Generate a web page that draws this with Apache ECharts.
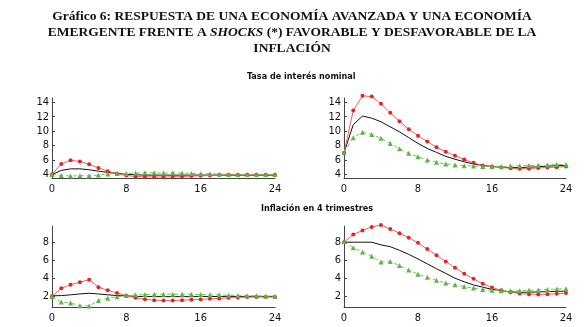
<!DOCTYPE html>
<html><head><meta charset="utf-8">
<script src="https://cdn.jsdelivr.net/npm/echarts@6/dist/echarts.min.js"></script>
<style>html,body{margin:0;padding:0;background:#fff}#c{width:584px;height:327px}</style>
</head><body><div id="c"></div>
<script>
// Tasa de interés nominal - economía avanzada (izquierda)
const rateAdvBase = [4.0,4.55,4.77,4.77,4.64,4.45,4.27,4.14,4.0,3.95,3.9,3.9,3.9,3.9,3.9,3.9,3.9,3.9,3.9,3.9,3.9,3.9,3.9,3.9,3.9];
const rateAdvUnfav = [4.0,5.45,5.95,5.8,5.4,4.9,4.45,4.1,3.85,3.7,3.68,3.64,3.64,3.66,3.7,3.77,3.8,3.85,3.9,3.95,3.95,3.95,3.95,3.95,3.95];
const rateAdvFav = [4.0,3.86,3.77,3.82,3.82,3.9,4.05,4.14,4.14,4.18,4.23,4.23,4.18,4.23,4.18,4.14,4.09,4.09,4.05,4.0,4.0,4.0,4.0,4.0,4.0];
// Tasa de interés nominal - economía emergente (derecha)
const rateEmBase = [7.0,10.9,12.1,11.8,11.3,10.6,9.9,9.1,8.3,7.6,7.05,6.5,6.1,5.75,5.45,5.23,5.1,5.0,4.95,4.95,5.0,5.05,5.15,5.2,5.25];
const rateEmUnfav = [7.0,12.86,14.9,14.8,13.8,12.55,11.36,10.27,9.36,8.55,7.77,7.14,6.6,6.05,5.6,5.23,5.1,4.95,4.86,4.8,4.8,4.9,4.95,5.0,5.1];
const rateEmFav = [7.0,9.1,9.85,9.55,9.0,8.3,7.55,6.95,6.45,6.0,5.7,5.45,5.3,5.2,5.15,5.1,5.1,5.1,5.15,5.2,5.23,5.27,5.3,5.36,5.36];
// Inflación en 4 trimestres - economía avanzada (izquierda)
const inflAdvBase = [2.04,2.07,2.15,2.25,2.33,2.25,2.15,2.07,2.04,1.98,1.96,1.95,1.95,1.95,1.95,1.95,1.95,1.96,1.97,1.98,1.98,1.98,1.98,1.98,1.98];
const inflAdvUnfav = [2.0,2.87,3.27,3.56,3.82,3.0,2.65,2.36,2.04,1.82,1.67,1.56,1.53,1.53,1.56,1.6,1.64,1.71,1.75,1.82,1.85,1.9,1.9,1.9,1.9];
const inflAdvFav = [1.96,1.35,1.24,0.95,0.91,1.53,1.78,1.93,2.07,2.15,2.18,2.22,2.22,2.22,2.22,2.22,2.18,2.15,2.15,2.1,2.07,2.04,2.04,2.0,2.0];
// Inflación en 4 trimestres - economía emergente (derecha)
const inflEmBase = [8.0,8.0,8.0,8.0,7.7,7.5,7.1,6.65,6.13,5.6,5.05,4.53,4.0,3.6,3.25,3.0,2.76,2.6,2.48,2.44,2.44,2.47,2.5,2.53,2.57];
const inflEmUnfav = [8.0,8.85,9.3,9.7,9.9,9.47,9.0,8.5,7.93,7.24,6.55,5.85,5.16,4.5,3.93,3.38,2.98,2.65,2.43,2.31,2.22,2.2,2.22,2.26,2.36];
const inflEmFav = [8.07,7.38,6.9,6.43,5.8,5.85,5.4,4.9,4.45,4.1,3.77,3.48,3.26,3.08,2.9,2.75,2.65,2.6,2.6,2.6,2.65,2.7,2.75,2.8,2.84];

const xTicks = [0, 8, 16, 24];
const rateTicks = [4, 6, 8, 10, 12, 14];
const inflTicks = [2, 4, 6, 8];

const subtitles = ['Tasa de interés nominal', 'Inflación en 4 trimestres'];

const chart = echarts.init(document.getElementById('c'), null, {renderer: 'canvas'});
const narrow = '"Liberation Sans Narrow","DejaVu Sans Condensed","Arial Narrow",sans-serif';
const axisColor = '#444';
const RED = '#e0242a', RED_LINE = '#f0625d', GREEN = '#5db544', GREEN_LINE = '#76c35e';

const grids = [
  {left: 52, top: 98, width: 223, height: 80},
  {left: 344, top: 98, width: 222, height: 80},
  {left: 52, top: 226, width: 223, height: 81},
  {left: 344, top: 226, width: 222, height: 81}
];
const panels = [
  [rateAdvBase, rateAdvUnfav, rateAdvFav, 3.5, 14.6, rateTicks],
  [rateEmBase, rateEmUnfav, rateEmFav, 3.5, 14.6, rateTicks],
  [inflAdvBase, inflAdvUnfav, inflAdvFav, 0.8, 9.8, inflTicks],
  [inflEmBase, inflEmUnfav, inflEmFav, 0.8, 9.8, inflTicks]
];
const toPts = arr => arr.map((v, i) => [i, v]);

const xAxes = [], yAxes = [], series = [];
panels.forEach((p, k) => {
  xAxes.push({
    type: 'value', gridIndex: k, min: 0, max: 24, interval: 8,
    axisLine: {show: true, lineStyle: {color: axisColor, width: 1}},
    axisTick: {show: false},
    splitLine: {show: false},
    axisLabel: {color: '#111', fontFamily: narrow, fontSize: 11, margin: 6, customValues: xTicks}
  });
  yAxes.push({
    type: 'value', gridIndex: k, min: p[3], max: p[4],
    axisLine: {show: true, lineStyle: {color: axisColor, width: 1}},
    axisTick: {show: true, inside: true, length: 3, customValues: p[5], lineStyle: {color: axisColor}},
    splitLine: {show: false},
    axisLabel: {color: '#111', fontFamily: narrow, fontSize: 11, margin: 3, customValues: p[5]}
  });
  series.push({
    type: 'line', xAxisIndex: k, yAxisIndex: k, data: toPts(p[0]), clip: false,
    symbol: 'none', lineStyle: {color: '#111', width: 1}, z: 3, animation: false
  });
  series.push({
    type: 'line', xAxisIndex: k, yAxisIndex: k, data: toPts(p[1]), clip: false,
    symbol: 'circle', symbolSize: 4, itemStyle: {color: RED},
    lineStyle: {color: RED_LINE, width: 1}, z: 4, animation: false
  });
  series.push({
    type: 'line', xAxisIndex: k, yAxisIndex: k, data: toPts(p[2]), clip: false,
    symbol: 'triangle', symbolSize: 5, itemStyle: {color: GREEN},
    lineStyle: {color: GREEN_LINE, width: 1, type: [4, 3]}, z: 4, animation: false
  });
});

const titleFont = '"Liberation Serif","Times New Roman",serif';
const tStyle = {fontFamily: titleFont, fontWeight: 'bold', fontSize: 13.5, color: '#111'};
const sStyle = {fontFamily: narrow, fontWeight: 'bold', fontSize: 9, color: '#111'};
chart.setOption({
  animation: false,
  title: [
    {text: 'Gráfico 6: RESPUESTA DE UNA ECONOMÍA AVANZADA Y UNA ECONOMÍA', left: 'center', top: 5, textStyle: tStyle},
    {text: '{a|EMERGENTE FRENTE A }{i|SHOCKS}{a| (*) FAVORABLE Y DESFAVORABLE DE LA}', left: 'center', top: 21,
     textStyle: {rich: {a: tStyle, i: Object.assign({}, tStyle, {fontStyle: 'italic'})}}},
    {text: 'INFLACIÓN', left: 'center', top: 37, textStyle: tStyle},
    {text: subtitles[0], left: 247, top: 72, padding: 0, textStyle: sStyle},
    {text: subtitles[1], left: 261, top: 204, padding: 0, textStyle: sStyle}
  ],
  grid: grids,
  xAxis: xAxes,
  yAxis: yAxes,
  series: series
});
</script>
</body></html>
